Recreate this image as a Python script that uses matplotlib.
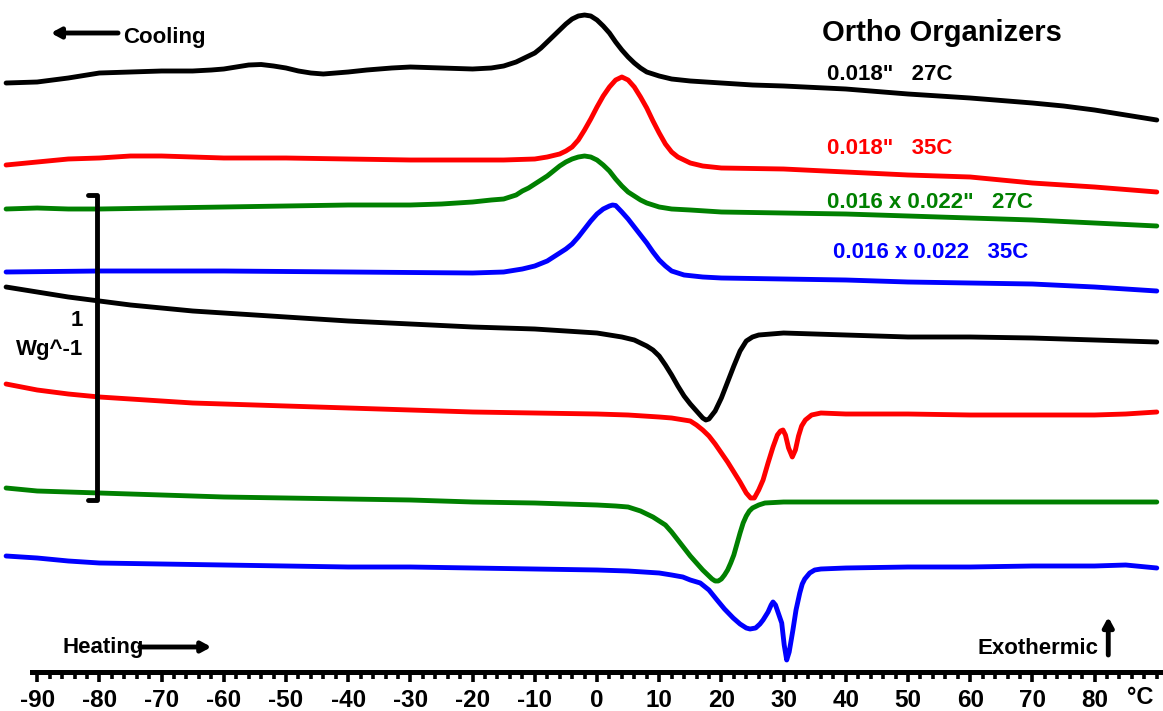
import matplotlib
matplotlib.use('Agg')
import matplotlib.pyplot as plt
from matplotlib.ticker import FixedLocator

plt.rcParams['font.family'] = ['Liberation Sans', 'DejaVu Sans']
plt.rcParams['font.weight'] = 'bold'

# ---------------- data (temperature in degC, heat flow in arbitrary units; 305 a.u. = 1 W/g) ----------------
# Cooling runs
cool_18_27_T = [-95, -90, -85, -80, -75, -70, -65, -62, -60, -58, -56, -54, -52, -50, -48, -46, -44, -42, -40, -37,
                -33, -30, -25, -20, -17, -15, -14, -13, -12, -11, -10, -9, -8, -7, -6, -5, -4, -3, -2, -1, 0, 1, 2,
                3, 4, 5, 6, 7, 8, 9, 10, 12, 15, 20, 25, 30, 40, 50, 60, 70, 75, 80, 85, 90]
cool_18_27_HF = [617, 618, 622, 627, 628, 629, 629, 630, 631, 633, 635, 635.5, 634, 632, 629, 627, 626, 627, 628, 630,
                 632, 633, 632, 631, 632, 634, 636, 638, 641, 644, 647, 652, 658, 664, 670, 676, 681, 684, 685, 684,
                 680, 674, 667, 658, 650, 643, 637, 632, 628, 626, 624, 621, 619, 617, 615, 614, 611, 606, 602, 597,
                 594, 590, 585, 580]

cool_18_35_T = [-95, -90, -85, -80, -75, -70, -65, -60, -50, -40, -30, -20, -15, -10, -8, -6, -5, -4, -3, -2, -1, 0,
                1, 2, 3, 4, 5, 6, 7, 8, 9, 10, 11, 12, 13, 14, 15, 17, 20, 30, 40, 50, 60, 70, 80, 90]
cool_18_35_HF = [535, 538, 541, 542, 544, 544, 543, 542, 542, 541, 540, 540, 540, 541, 543, 546, 549, 553, 560, 570,
                 581, 593, 604, 613, 620, 623, 620, 613, 603, 592, 579, 567, 556, 548, 543, 540, 537, 534, 532, 531,
                 528, 525, 523, 517, 513, 508]

cool_1622_27_T = [-95, -90, -85, -80, -70, -60, -50, -40, -30, -25, -20, -17, -15, -13, -12, -11, -10, -9, -8, -7, -6,
                  -5, -4, -3, -2, -1, 0, 1, 2, 3, 4, 5, 6, 7, 8, 9, 10, 12, 15, 20, 30, 40, 50, 60, 70, 80, 90]
cool_1622_27_HF = [491, 492, 491, 491, 492, 493, 494, 495, 495, 496, 498, 500, 501, 505, 509, 512, 516, 520, 524, 529,
                   534, 538, 541, 543, 544, 543, 540, 535, 529, 521, 514, 508, 504, 500, 497, 495, 493, 491, 490, 488,
                   487, 486, 484, 482, 480, 477, 474]

cool_1622_35_T = [-95, -80, -60, -40, -20, -15, -12, -10, -8, -6, -5, -4, -3, -2, -1, 0, 1, 2, 2.5, 3, 4, 5, 6, 7, 8,
                  9, 10, 11, 12, 13, 14, 17, 20, 30, 40, 50, 60, 70, 80, 85, 90]
cool_1622_35_HF = [428, 429, 429, 428, 427, 428, 431, 434, 439, 447, 451, 456, 463, 471, 479, 486, 491, 494, 495,
                   494.5, 488, 481, 473, 465, 457, 448, 440, 434, 429, 427, 425, 423, 422, 421, 420, 418, 417, 416,
                   413, 411, 409]

# Heating runs
heat_18_27_T = [-95, -90, -85, -80, -75, -70, -65, -60, -55, -50, -45, -40, -30, -20, -10, -5, 0, 4, 6, 7, 8, 9, 10,
                11, 12, 13, 14, 15, 16, 17, 17.5, 18, 19, 20, 21, 22, 23, 24, 25, 26, 28, 30, 40, 50, 60, 70, 80, 90]
heat_18_27_HF = [413, 408, 403, 399, 395, 392, 389, 387, 385, 383, 381, 379, 376, 373, 371, 369, 367, 363, 360, 357,
                 354, 350, 344, 335, 325, 314, 304, 296, 289, 282, 280, 281, 289, 302, 318, 334, 349, 359, 363, 365,
                 366, 367, 365, 363, 363, 362, 360, 358]

heat_18_35_T = [-95, -90, -85, -80, -75, -70, -65, -60, -50, -40, -30, -20, -10, 0, 5, 10, 12, 13, 14, 15, 16, 17, 18,
                19, 20, 21, 22, 23, 24, 24.7, 25.3, 26, 26.7, 27.5, 28.3, 29, 29.5, 29.9, 30.3, 30.8, 31.4, 31.9,
                32.4, 32.9, 33.5, 34.5, 36, 40, 50, 60, 70, 80, 85, 90]
heat_18_35_HF = [316, 310, 306, 303, 301, 299, 297, 296, 294, 292, 290, 288, 287, 286, 285, 283, 282, 281, 280, 279,
                 275, 270, 264, 256, 247, 238, 228, 218, 207, 202, 202, 210, 220, 237, 253, 265, 269, 270, 265, 252,
                 243, 250, 264, 274, 280, 285, 287, 286, 286, 285, 285, 285, 286, 288]

heat_1622_27_T = [-95, -90, -85, -80, -70, -60, -50, -40, -30, -20, -10, 0, 3, 5, 7, 8, 9, 10, 11, 12, 13, 14, 15, 16,
                  17, 18, 18.5, 19, 19.5, 20, 20.5, 21, 21.5, 22, 22.5, 23, 23.5, 24, 24.5, 25, 26, 27, 30, 40, 50,
                  60, 70, 80, 90]
heat_1622_27_HF = [212, 209, 208, 207, 205, 203, 202, 201, 200, 198, 197, 195, 194, 193, 189, 186, 183, 179, 175, 168,
                   160, 152, 144, 137, 130, 124, 121, 119, 119, 121, 125, 130, 137, 145, 156, 167, 177, 184, 189, 192,
                   195, 197, 198, 198, 198, 198, 198, 198, 198]

heat_1622_35_T = [-95, -90, -85, -80, -70, -60, -50, -40, -30, -20, -10, 0, 5, 10, 12, 13.8, 15, 16.6, 18, 19.3, 20.5,
                  21.9, 23, 24, 24.6, 25.5, 26.2, 26.7, 27.5, 28, 28.3, 28.7, 29.2, 29.7, 30.1, 30.5, 30.9, 31.5, 32,
                  32.6, 33, 33.4, 34.2, 35, 36, 40, 50, 60, 70, 80, 85, 90]
heat_1622_35_HF = [144, 142, 139, 137, 136, 135, 134, 133, 133, 132, 131, 130, 129, 127, 125, 123, 120, 117, 110, 100,
                   91, 82, 76, 72, 71, 72, 76, 80, 88, 95, 98, 95, 86, 77, 55, 40, 48, 70, 90, 107, 116, 121, 127,
                   130, 131, 132, 133, 133, 134, 134, 135, 132]

labels = ['0.018"   27C', '0.018"   35C', '0.016 x 0.022"   27C', '0.016 x 0.022   35C']
colors = ['black', '#ff0000', '#008000', '#0000ff']
tick_values = list(range(-90, 81, 10))
tick_labels = [str(v) for v in tick_values]
minor_tick_values = list(range(-90, 91, 2))

AU_PER_WG = 305  # arbitrary units per 1 W/g

# ---------------- figure ----------------
fig = plt.figure(figsize=(11.63, 7.11), dpi=100)
ax = fig.add_axes([0, 0, 1, 1])
ax.set_xlim(-95.98, 91.0)
ax.set_ylim(-11, 700)
ax.patch.set_visible(False)

series = [
    (cool_18_27_T, cool_18_27_HF, colors[0]),
    (cool_18_35_T, cool_18_35_HF, colors[1]),
    (cool_1622_27_T, cool_1622_27_HF, colors[2]),
    (cool_1622_35_T, cool_1622_35_HF, colors[3]),
    (heat_18_27_T, heat_18_27_HF, colors[0]),
    (heat_18_35_T, heat_18_35_HF, colors[1]),
    (heat_1622_27_T, heat_1622_27_HF, colors[2]),
    (heat_1622_35_T, heat_1622_35_HF, colors[3]),
]
for T, hf, c in series:
    ax.plot(T, hf, color=c, lw=3.5, solid_joinstyle='round', solid_capstyle='round')

# x axis
for s in ['top', 'left', 'right']:
    ax.spines[s].set_visible(False)
ax.spines['bottom'].set_position(('data', 28))
ax.spines['bottom'].set_linewidth(3.6)
ax.spines['bottom'].set_bounds(-90.8, 90.5)
ax.set_yticks([])
ax.set_xticks(tick_values)
ax.set_xticklabels(tick_labels)
ax.xaxis.set_minor_locator(FixedLocator(minor_tick_values))
ax.tick_params(axis='x', which='major', direction='out', length=7, width=2.6, pad=5,
               labelsize=17.5)
ax.tick_params(axis='x', which='minor', direction='out', length=5, width=2.6)
for lab in ax.get_xticklabels():
    lab.set_fontweight('bold')
ax.text(87.3, -4.5, '°C', fontsize=17, fontweight='bold', ha='center', va='baseline')

# title and curve labels
fs = 16
ax.text(36.2, 667, 'Ortho Organizers', fontsize=21, fontweight='bold', ha='left', va='center', color='black')
ax.text(37.0, 626, labels[0], fontsize=fs, fontweight='bold', ha='left', va='center', color=colors[0])
ax.text(37.0, 552, labels[1], fontsize=fs, fontweight='bold', ha='left', va='center', color=colors[1])
ax.text(37.0, 498, labels[2], fontsize=fs, fontweight='bold', ha='left', va='center', color=colors[2])
ax.text(37.9, 447, labels[3], fontsize=fs, fontweight='bold', ha='left', va='center', color=colors[3])

# Cooling arrow
ax.annotate('', xy=(-87.8, 667), xytext=(-77.0, 667),
            arrowprops=dict(arrowstyle='-|>,head_length=0.55,head_width=0.3', lw=3.5, color='black',
                            shrinkA=0, shrinkB=0))
ax.text(-76.2, 662, 'Cooling', fontsize=fs, fontweight='bold', ha='left', va='center')

# Heating arrow
ax.text(-86.0, 52, 'Heating', fontsize=fs, fontweight='bold', ha='left', va='center')
ax.annotate('', xy=(-62.0, 53), xytext=(-73.5, 53),
            arrowprops=dict(arrowstyle='-|>,head_length=0.55,head_width=0.3', lw=3.5, color='black',
                            shrinkA=0, shrinkB=0))

# Exothermic arrow
ax.text(61.1, 52, 'Exothermic', fontsize=fs, fontweight='bold', ha='left', va='center')
ax.annotate('', xy=(82.2, 83), xytext=(82.2, 45),
            arrowprops=dict(arrowstyle='-|>,head_length=0.55,head_width=0.3', lw=3.5, color='black',
                            shrinkA=0, shrinkB=0))

# scale bar 1 W/g
bar_x = -80.4
bar_bottom = 200
bar_top = bar_bottom + AU_PER_WG * 1
ax.plot([-81.8, bar_x, bar_x, -81.8], [bar_top, bar_top, bar_bottom, bar_bottom], color='black', lw=3.5,
        solid_joinstyle='round', solid_capstyle='round')
ax.text(-82.6, 380, '1', fontsize=fs, fontweight='bold', ha='right', va='center')
ax.text(-82.6, 350, 'Wg^-1', fontsize=fs, fontweight='bold', ha='right', va='center')

fig.savefig('out.png', dpi=100)
